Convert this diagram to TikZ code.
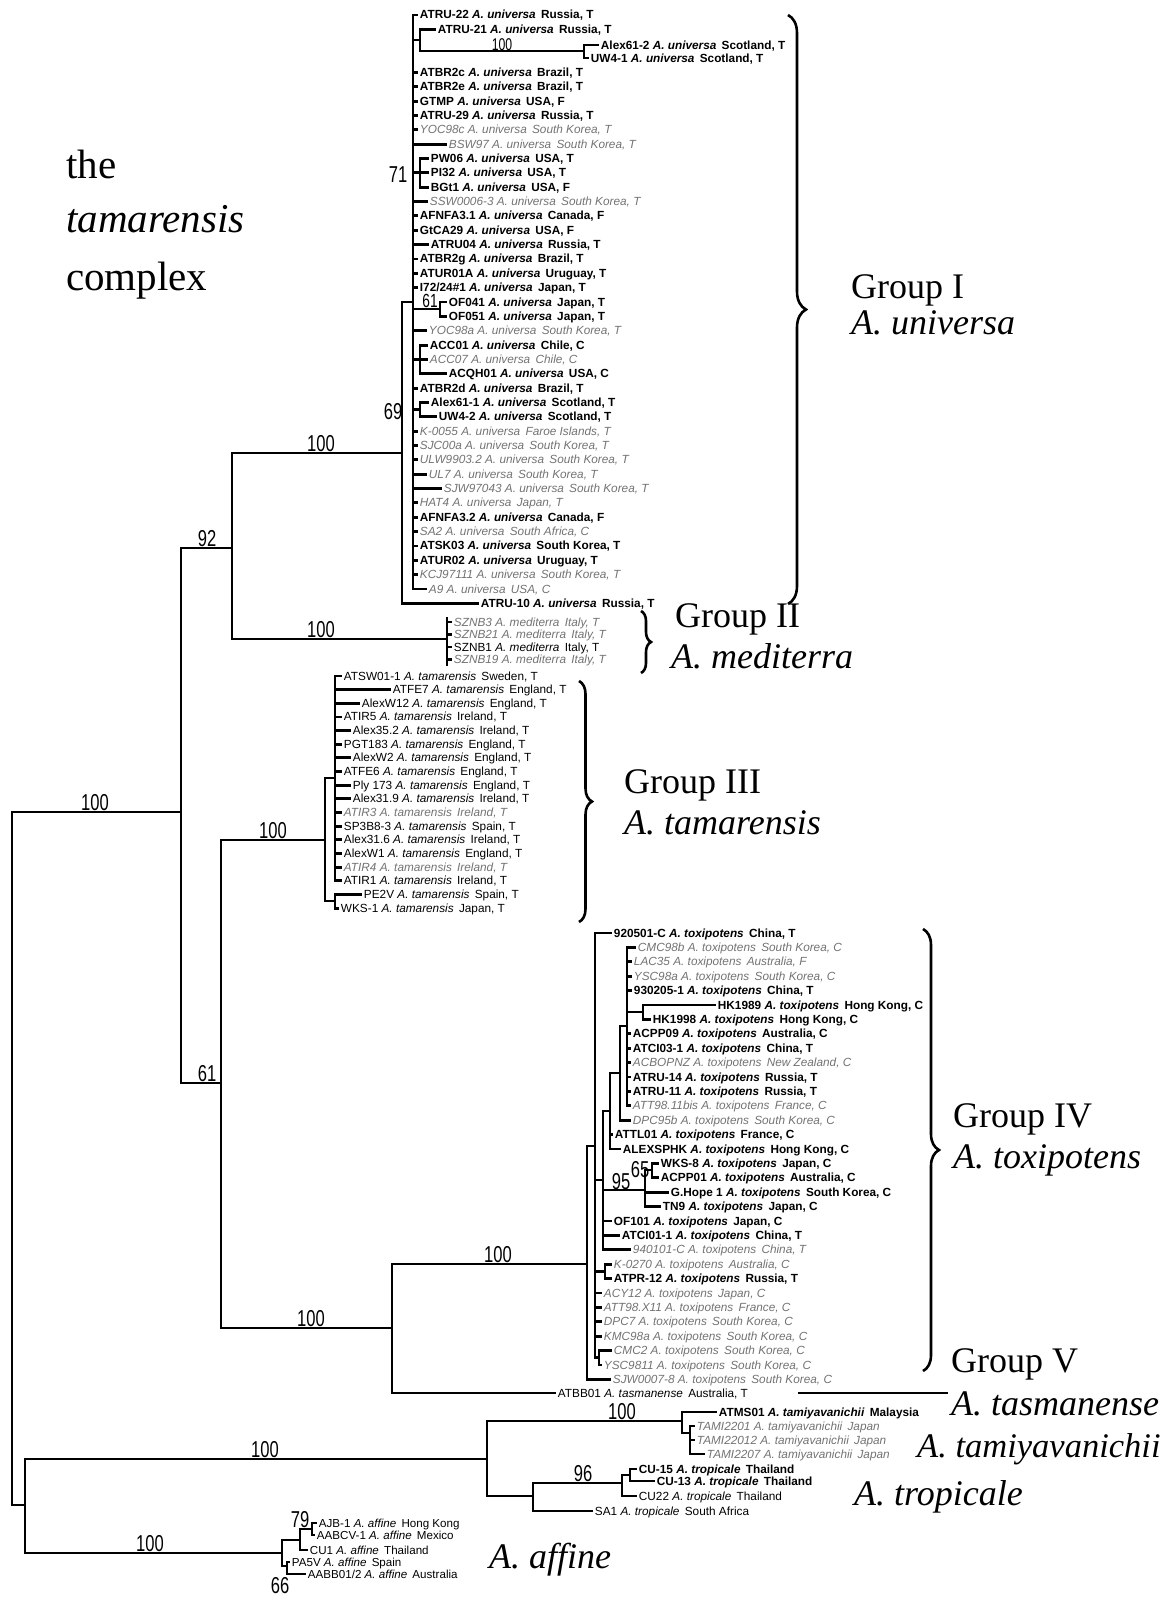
\documentclass[tikz,border=0pt]{standalone}
\usepackage{fontspec}
\setmainfont{Liberation Serif}
\setsansfont{Liberation Sans}
\newfontfamily\bsfont[FakeStretch=0.72]{Liberation Sans}
\usetikzlibrary{decorations.pathreplacing}

% species name inside a tip label
\newcommand{\spn}[1]{\textit{#1}\hspace{2pt}}
% tip: name, x of branch start, x of branch end, y, label style, label
\newcommand{\tip}[6]{\draw[br] (#2,#4) -- (#3,#4) node[#5] (#1) {#6};}

\tikzset{
  br/.style={line width=2.9pt, line cap=rect},
  leaf/.style={anchor=west, inner sep=1.5pt, text height=8.5pt, text depth=0.5pt},
  lb/.style={leaf, font=\fontsize{11.8}{12}\sffamily\bfseries},
  ln/.style={leaf, font=\fontsize{11.8}{12}\sffamily},
  lg/.style={leaf, font=\fontsize{11.8}{12}\sffamily\itshape, text=black!55},
  lsm/.style={leaf, font=\fontsize{11.6}{12}\sffamily},
  bs/.style={anchor=base, inner sep=0pt, font=\fontsize{23}{23}\bsfont},
  grp/.style={anchor=base west, inner sep=0pt, font=\fontsize{36}{36}\selectfont},
  brc/.style={line width=2.6pt, decorate, decoration={brace, amplitude=#1}},
}

\begin{document}
\begin{tikzpicture}[x=1pt, y=-1pt]
  \fill[white] (0,0) rectangle (1168,1598);
  \useasboundingbox (0,0) rectangle (1168,1598);

  % title
  \node[anchor=base west, inner sep=0pt, font=\fontsize{41}{41}\selectfont] (tthe) at (66,178) {the};
  \node[anchor=base west, inner sep=0pt, font=\fontsize{41}{41}\selectfont\itshape] (ttam) at (66,232) {tamarensis};
  \node[anchor=base west, inner sep=0pt, font=\fontsize{41}{41}\selectfont] (tcom) at (66,290) {complex};

  % backbone
  \draw[br] (12,812) -- (12,1505);
  \draw[br] (12,812) -- (181,812);
  \draw[br] (181,548) -- (181,1083);
  \draw[br] (181,548) -- (232,548);
  \draw[br] (181,1083) -- (221,1083);
  \draw[br] (232,453) -- (232,639);
  \draw[br] (232,453) -- (402,453);
  \draw[br] (232,639) -- (447,639);
  \draw[br] (221,840) -- (221,1328);
  \draw[br] (221,840) -- (325,840);
  \draw[br] (221,1328) -- (392,1328);
  \draw[br] (12,1505) -- (25,1505);
  \draw[br] (25,1459) -- (25,1553);
  \draw[br] (25,1459) -- (487,1459);
  \draw[br] (25,1553) -- (282,1553);

  % bootstrap values
  \node[bs] (bsroot) at (95,810) {100};
  \node[bs] (bs92) at (207,546) {92};
  \node[bs] (bs61) at (207,1081) {61};
  \node[bs] (bsgi) at (321,451) {100};
  \node[bs] (bsgii) at (321,637) {100};
  \node[bs] (bsgiii) at (273,838) {100};
  \node[bs] (bslow) at (311,1326) {100};
  \node[bs] (bsgiv) at (498,1262) {100};
  \node[bs] (bsout) at (265,1457) {100};
  \node[bs] (bsaff) at (150,1551) {100};
  \node[bs] (bstam) at (622,1419) {100};
  \node[bs] (bstro) at (583,1481) {96};
  \node[bs, font=\fontsize{17}{17}\bsfont] (bsalex) at (502,50) {100};
  \node[bs] (bs71) at (398,182) {71};
  \node[bs, font=\fontsize{19}{19}\bsfont] (bsof) at (430,307) {61};
  \node[bs] (bs69) at (393,419) {69};
  \node[bs] (bs95) at (621,1189) {95};
  \node[bs] (bs65) at (640,1177) {65};
  \node[bs] (bs79) at (300,1527) {79};
  \node[bs] (bs66) at (280,1593) {66};

  % Group I
  \draw[br] (402,302) -- (402,603.35);
  \draw[br] (402,302) -- (413,302);
  \draw[br] (413,15) -- (413,589);
  \tip{atrutt}{413}{417}{15}{lb}{ATRU-22 \spn{A. universa} Russia, T}
  \draw[br] (413,40) -- (420,40);
  \draw[br] (420,29.35) -- (420,51);
  \tip{atrutw}{420}{435}{29.35}{lb}{ATRU-21 \spn{A. universa} Russia, T}
  \draw[br] (420,51) -- (584,51);
  \draw[br] (584,45) -- (584,58);
  \tip{alexsa}{584}{598}{45}{lb}{Alex61-2 \spn{A. universa} Scotland, T}
  \tip{uwa}{584}{588}{58}{lb}{UW4-1 \spn{A. universa} Scotland, T}
  \tip{atbrc}{413}{417}{72.4}{lb}{ATBR2c \spn{A. universa} Brazil, T}
  \tip{atbre}{413}{417}{86.75}{lb}{ATBR2e \spn{A. universa} Brazil, T}
  \tip{gtmp}{413}{417}{101.1}{lb}{GTMP \spn{A. universa} USA, F}
  \tip{atrutn}{413}{417}{115.45}{lb}{ATRU-29 \spn{A. universa} Russia, T}
  \tip{yocc}{413}{417}{129.8}{lg}{YOC98c \spn{A. universa} South Korea, T}
  \tip{bsw}{413}{446}{144.15}{lg}{BSW97 \spn{A. universa} South Korea, T}
  \draw[br] (413,172.85) -- (420,172.85);
  \draw[br] (420,158.5) -- (420,187.2);
  \tip{pw}{420}{428}{158.5}{lb}{PW06 \spn{A. universa} USA, T}
  \tip{pi}{420}{428}{172.85}{lb}{PI32 \spn{A. universa} USA, T}
  \tip{bgt}{420}{428}{187.2}{lb}{BGt1 \spn{A. universa} USA, F}
  \tip{ssw}{413}{427}{201.55}{lg}{SSW0006-3 \spn{A. universa} South Korea, T}
  \tip{afnfa}{413}{417}{215.9}{lb}{AFNFA3.1 \spn{A. universa} Canada, F}
  \tip{gtca}{413}{417}{230.25}{lb}{GtCA29 \spn{A. universa} USA, F}
  \tip{atruf}{413}{428}{244.6}{lb}{ATRU04 \spn{A. universa} Russia, T}
  \tip{atbrg}{413}{417}{258.95}{lb}{ATBR2g \spn{A. universa} Brazil, T}
  \tip{aturo}{413}{417}{273.3}{lb}{ATUR01A \spn{A. universa} Uruguay, T}
  \tip{iseventwo}{413}{417}{287.65}{lb}{I72/24\#1 \spn{A. universa} Japan, T}
  \draw[br] (413,309) -- (440,309);
  \draw[br] (440,302) -- (440,316.35);
  \tip{ofa}{440}{446}{302}{lb}{OF041 \spn{A. universa} Japan, T}
  \tip{ofb}{440}{446}{316.35}{lb}{OF051 \spn{A. universa} Japan, T}
  \tip{yoca}{413}{426}{330.7}{lg}{YOC98a \spn{A. universa} South Korea, T}
  \draw[br] (413,359.4) -- (420,359.4);
  \draw[br] (420,345.05) -- (420,373.75);
  \tip{acca}{420}{427}{345.05}{lb}{ACC01 \spn{A. universa} Chile, C}
  \tip{accb}{420}{427}{359.4}{lg}{ACC07 \spn{A. universa} Chile, C}
  \tip{acqh}{420}{446}{373.75}{lb}{ACQH01 \spn{A. universa} USA, C}
  \tip{atbrd}{413}{417}{388.1}{lb}{ATBR2d \spn{A. universa} Brazil, T}
  \draw[br] (413,409.6) -- (420,409.6);
  \draw[br] (420,402.45) -- (420,416.8);
  \tip{alexsb}{420}{428}{402.45}{lb}{Alex61-1 \spn{A. universa} Scotland, T}
  \tip{uwb}{420}{436}{416.8}{lb}{UW4-2 \spn{A. universa} Scotland, T}
  \tip{kzero}{413}{417}{431.15}{lg}{K-0055 \spn{A. universa} Faroe Islands, T}
  \tip{sjc}{413}{417}{445.5}{lg}{SJC00a \spn{A. universa} South Korea, T}
  \tip{ulw}{413}{417}{459.85}{lg}{ULW9903.2 \spn{A. universa} South Korea, T}
  \tip{ul}{413}{426}{474.2}{lg}{UL7 \spn{A. universa} South Korea, T}
  \tip{sjw}{413}{441}{488.55}{lg}{SJW97043 \spn{A. universa} South Korea, T}
  \tip{hat}{413}{417}{502.9}{lg}{HAT4 \spn{A. universa} Japan, T}
  \tip{afnfb}{413}{417}{517.25}{lb}{AFNFA3.2 \spn{A. universa} Canada, F}
  \tip{satwo}{413}{417}{531.6}{lg}{SA2 \spn{A. universa} South Africa, C}
  \tip{atsk}{413}{417}{545.95}{lb}{ATSK03 \spn{A. universa} South Korea, T}
  \tip{aturt}{413}{417}{560.3}{lb}{ATUR02 \spn{A. universa} Uruguay, T}
  \tip{kcj}{413}{417}{574.65}{lg}{KCJ97111 \spn{A. universa} South Korea, T}
  \tip{anine}{413}{426}{589}{lg}{A9 \spn{A. universa} USA, C}
  \tip{atruten}{402}{478}{603.35}{lb}{ATRU-10 \spn{A. universa} Russia, T}

  % Group II
  \draw[br] (447,618) -- (447,665);
  \tip{szna}{447}{451}{622}{lg}{SZNB3 \spn{A. mediterra} Italy, T}
  \tip{sznb}{447}{451}{634.5}{lg}{SZNB21 \spn{A. mediterra} Italy, T}
  \tip{sznc}{447}{451}{647}{ln}{SZNB1 \spn{A. mediterra} Italy, T}
  \tip{sznd}{447}{451}{659.5}{lg}{SZNB19 \spn{A. mediterra} Italy, T}

  % Group III
  \draw[br] (325,778) -- (325,901);
  \draw[br] (325,778) -- (335,778);
  \draw[br] (325,901) -- (335,901);
  \draw[br] (335,676) -- (335,880.8);
  \tip{atsw}{335}{341}{676}{ln}{ATSW01-1 \spn{A. tamarensis} Sweden, T}
  \tip{atfe}{335}{390}{689.65}{ln}{ATFE7 \spn{A. tamarensis} England, T}
  \tip{alexwa}{335}{359}{703.3}{ln}{AlexW12 \spn{A. tamarensis} England, T}
  \tip{atira}{335}{341}{716.95}{ln}{ATIR5 \spn{A. tamarensis} Ireland, T}
  \tip{alexta}{335}{350}{730.6}{ln}{Alex35.2 \spn{A. tamarensis} Ireland, T}
  \tip{pgt}{335}{341}{744.25}{ln}{PGT183 \spn{A. tamarensis} England, T}
  \tip{alexwb}{335}{350}{757.9}{ln}{AlexW2 \spn{A. tamarensis} England, T}
  \tip{atfb}{335}{341}{771.55}{ln}{ATFE6 \spn{A. tamarensis} England, T}
  \tip{ply}{335}{350}{785.2}{ln}{Ply 173 \spn{A. tamarensis} England, T}
  \tip{alextb}{335}{350}{798.85}{ln}{Alex31.9 \spn{A. tamarensis} Ireland, T}
  \tip{atirb}{335}{341}{812.5}{lg}{ATIR3 \spn{A. tamarensis} Ireland, T}
  \tip{spb}{335}{341}{826.15}{ln}{SP3B8-3 \spn{A. tamarensis} Spain, T}
  \tip{alextc}{335}{341}{839.8}{ln}{Alex31.6 \spn{A. tamarensis} Ireland, T}
  \tip{alexwc}{335}{341}{853.45}{ln}{AlexW1 \spn{A. tamarensis} England, T}
  \tip{atirc}{335}{341}{867.1}{lg}{ATIR4 \spn{A. tamarensis} Ireland, T}
  \tip{atird}{335}{341}{880.75}{ln}{ATIR1 \spn{A. tamarensis} Ireland, T}
  \draw[br] (335,894.4) -- (335,908.05);
  \tip{pev}{335}{361}{894.4}{ln}{PE2V \spn{A. tamarensis} Spain, T}
  \tip{wks}{335}{338}{908.05}{ln}{WKS-1 \spn{A. tamarensis} Japan, T}

  % Group IV and A. tasmanense
  \draw[br] (392,1264) -- (392,1393);
  \draw[br] (392,1264) -- (587,1264);
  \tip{atbb}{392}{555}{1393}{ln}{ATBB01 \spn{A. tasmanense} Australia, T}
  \draw[br] (587,1146) -- (587,1379.4);
  \draw[br] (587,1146) -- (595,1146);
  \tip{sjwb}{587}{610}{1379.4}{lg}{SJW0007-8 \spn{A. toxipotens} South Korea, C}
  \draw[br] (595,933) -- (595,1357.8);
  \tip{nine}{595}{611}{933}{lb}{920501-C \spn{A. toxipotens} China, T}
  \draw[br] (595,1180) -- (603,1180);
  \draw[br] (603,1111) -- (603,1249.8);
  \draw[br] (603,1111) -- (610,1111);
  \draw[br] (610,1073) -- (610,1149);
  \draw[br] (610,1073) -- (620,1073);
  \draw[br] (620,1026) -- (620,1120.2);
  \draw[br] (620,1026) -- (627,1026);
  \draw[br] (627,947.4) -- (627,1105.8);
  \tip{cmcb}{627}{635}{947.4}{lg}{CMC98b \spn{A. toxipotens} South Korea, C}
  \tip{lac}{627}{631}{961.8}{lg}{LAC35 \spn{A. toxipotens} Australia, F}
  \tip{yscb}{627}{631}{976.2}{lg}{YSC98a \spn{A. toxipotens} South Korea, C}
  \tip{ninethree}{627}{631}{990.6}{lb}{930205-1 \spn{A. toxipotens} China, T}
  \draw[br] (627,1012) -- (643,1012);
  \draw[br] (643,1005) -- (643,1019.4);
  \tip{hka}{643}{715}{1005}{lb}{HK1989 \spn{A. toxipotens} Hong Kong, C}
  \tip{hkb}{643}{650}{1019.4}{lb}{HK1998 \spn{A. toxipotens} Hong Kong, C}
  \tip{acppa}{627}{630}{1033.8}{lb}{ACPP09 \spn{A. toxipotens} Australia, C}
  \tip{atcia}{627}{630}{1048.2}{lb}{ATCI03-1 \spn{A. toxipotens} China, T}
  \tip{acbo}{627}{630}{1062.6}{lg}{ACBOPNZ \spn{A. toxipotens} New Zealand, C}
  \tip{atrufa}{627}{630}{1077}{lb}{ATRU-14 \spn{A. toxipotens} Russia, T}
  \tip{atrufb}{627}{630}{1091.4}{lb}{ATRU-11 \spn{A. toxipotens} Russia, T}
  \tip{atta}{627}{630}{1105.8}{lg}{ATT98.11bis \spn{A. toxipotens} France, C}
  \tip{dpca}{620}{630}{1120.2}{lg}{DPC95b \spn{A. toxipotens} South Korea, C}
  \tip{attl}{610}{612}{1134.6}{lb}{ATTL01 \spn{A. toxipotens} France, C}
  \tip{alexsp}{610}{620}{1149}{lb}{ALEXSPHK \spn{A. toxipotens} Hong Kong, C}
  \draw[br] (603,1190) -- (645,1190);
  \draw[br] (645,1170) -- (645,1206.6);
  \draw[br] (645,1170) -- (652,1170);
  \draw[br] (652,1163.4) -- (652,1177.8);
  \tip{wksb}{652}{658}{1163.4}{lb}{WKS-8 \spn{A. toxipotens} Japan, C}
  \tip{acppb}{652}{658}{1177.8}{lb}{ACPP01 \spn{A. toxipotens} Australia, C}
  \tip{ghope}{645}{668}{1192.2}{lb}{G.Hope 1 \spn{A. toxipotens} South Korea, C}
  \tip{tnine}{645}{660}{1206.6}{lb}{TN9 \spn{A. toxipotens} Japan, C}
  \tip{ofc}{603}{611}{1221}{lb}{OF101 \spn{A. toxipotens} Japan, C}
  \tip{atcib}{603}{619}{1235.4}{lb}{ATCI01-1 \spn{A. toxipotens} China, T}
  \tip{ninefour}{603}{630}{1249.8}{lg}{940101-C \spn{A. toxipotens} China, T}
  \draw[br] (595,1271.4) -- (605,1271.4);
  \draw[br] (605,1264.2) -- (605,1278.6);
  \tip{kzt}{605}{611}{1264.2}{lg}{K-0270 \spn{A. toxipotens} Australia, C}
  \tip{atpr}{605}{611}{1278.6}{lb}{ATPR-12 \spn{A. toxipotens} Russia, T}
  \tip{acy}{595}{601}{1293}{lg}{ACY12 \spn{A. toxipotens} Japan, C}
  \tip{attb}{595}{601}{1307.4}{lg}{ATT98.X11 \spn{A. toxipotens} France, C}
  \tip{dpcb}{595}{601}{1321.8}{lg}{DPC7 \spn{A. toxipotens} South Korea, C}
  \tip{kmc}{595}{601}{1336.2}{lg}{KMC98a \spn{A. toxipotens} South Korea, C}
  \draw[br] (595,1357.8) -- (599,1357.8);
  \draw[br] (599,1350.6) -- (599,1365);
  \tip{cmcc}{599}{611}{1350.6}{lg}{CMC2 \spn{A. toxipotens} South Korea, C}
  \tip{ysce}{599}{601}{1365}{lg}{YSC9811 \spn{A. toxipotens} South Korea, C}

  % A. tamiyavanichii and A. tropicale
  \draw[br] (487,1421) -- (487,1496);
  \draw[br] (487,1421) -- (682,1421);
  \draw[br] (487,1496) -- (533,1496);
  \draw[br] (682,1412) -- (682,1433);
  \tip{atms}{682}{716}{1412}{lb}{ATMS01 \spn{A. tamiyavanichii} Malaysia}
  \draw[br] (682,1433) -- (690,1433);
  \draw[br] (690,1426) -- (690,1454);
  \tip{tamia}{690}{694}{1426}{lg}{TAMI2201 \spn{A. tamiyavanichii} Japan}
  \tip{tamib}{690}{694}{1440}{lg}{TAMI22012 \spn{A. tamiyavanichii} Japan}
  \tip{tamic}{690}{704}{1454}{lg}{TAMI2207 \spn{A. tamiyavanichii} Japan}
  \draw[br] (533,1483) -- (533,1511);
  \draw[br] (533,1483) -- (622,1483);
  \tip{saone}{533}{592}{1511}{ln}{SA1 \spn{A. tropicale} South Africa}
  \draw[br] (622,1475) -- (622,1496);
  \tip{cutt}{622}{636}{1496}{ln}{CU22 \spn{A. tropicale} Thailand}
  \draw[br] (622,1475) -- (630,1475);
  \draw[br] (630,1469) -- (630,1481);
  \tip{cuff}{630}{636}{1469}{lb}{CU-15 \spn{A. tropicale} Thailand}
  \tip{cuth}{630}{654}{1481}{lb}{CU-13 \spn{A. tropicale} Thailand}

  % A. affine
  \draw[br] (282,1540) -- (282,1566);
  \draw[br] (282,1540) -- (300,1540);
  \draw[br] (300,1529) -- (300,1550);
  \draw[br] (300,1529) -- (312,1529);
  \draw[br] (312,1523) -- (312,1535);
  \tip{ajb}{312}{316}{1523}{lsm}{AJB-1 \spn{A. affine} Hong Kong}
  \tip{aabcv}{312}{314}{1535}{lsm}{AABCV-1 \spn{A. affine} Mexico}
  \tip{cuone}{300}{307}{1550}{lsm}{CU1 \spn{A. affine} Thailand}
  \draw[br] (282,1566) -- (287,1566);
  \draw[br] (287,1562) -- (287,1574);
  \tip{pafv}{287}{289}{1562}{lsm}{PA5V \spn{A. affine} Spain}
  \tip{aabb}{287}{305}{1574}{lsm}{AABB01/2 \spn{A. affine} Australia}

  % braces and group names
  \draw[brc=18pt] (788,15) -- (788,604);
  \draw[brc=10pt] (641,611) -- (641,673);
  \draw[brc=13pt] (579,681) -- (579,922);
  \draw[brc=16pt] (923,929) -- (923,1371);
  \node[grp] (gi) at (851,298) {Group I};
  \node[grp, font=\fontsize{36}{36}\selectfont\itshape] (spi) at (851,334) {A. universa};
  \node[grp] (gii) at (675,627) {Group II};
  \node[grp, font=\fontsize{36}{36}\selectfont\itshape] (spii) at (671,668) {A. mediterra};
  \node[grp] (giii) at (624,793) {Group III};
  \node[grp, font=\fontsize{36}{36}\selectfont\itshape] (spiii) at (624,834) {A. tamarensis};
  \node[grp] (giv) at (953,1127) {Group IV};
  \node[grp, font=\fontsize{36}{36}\selectfont\itshape] (spiv) at (953,1168) {A. toxipotens};
  \node[grp] (gv) at (951,1372) {Group V};
  \node[grp, font=\fontsize{36}{36}\selectfont\itshape] (tasm) at (951,1415) {A. tasmanense};
  \node[grp, font=\fontsize{34.5}{35}\selectfont\itshape] (tamiy) at (917,1457) {A. tamiyavanichii};
  \node[grp, font=\fontsize{36}{36}\selectfont\itshape] (trop) at (854,1505) {A. tropicale};
  \node[grp, font=\fontsize{36}{36}\selectfont\itshape] (aff) at (489,1568) {A. affine};

  % leader from ATBB01 to its name
  \draw[line width=1.8pt] ([xshift=47pt]atbb.east) -- ([xshift=-3pt]tasm.west |- atbb.east);
\end{tikzpicture}
\end{document}
